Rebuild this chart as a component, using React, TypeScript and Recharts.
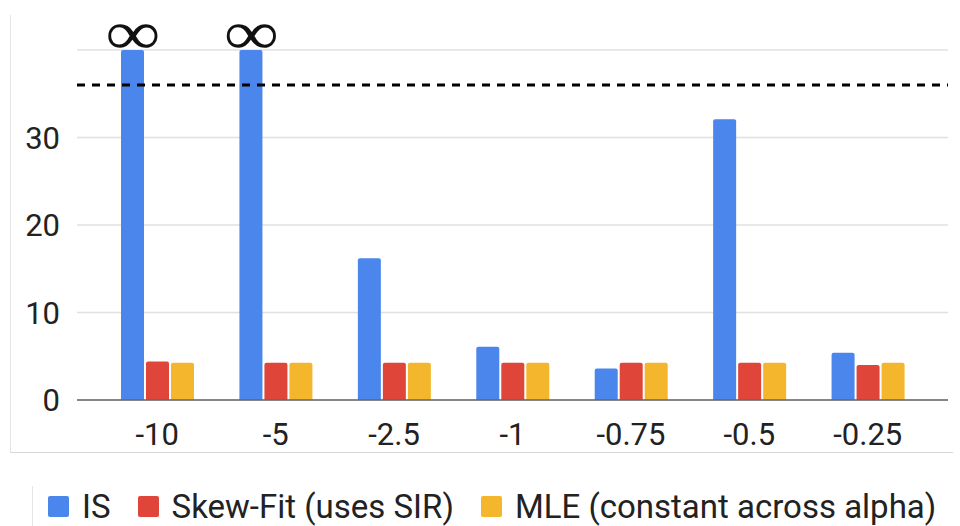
import { BarChart, Bar, XAxis, YAxis, CartesianGrid, ReferenceLine, LabelList } from 'recharts'

const alphas = ['-10', '-5', '-2.5', '-1', '-0.75', '-0.5', '-0.25']
// IS diverges for the two most negative alphas
const isValues = [Infinity, Infinity, 16.2, 6.1, 3.6, 32.1, 5.4]
const skewFitValues = [4.4, 4.25, 4.25, 4.25, 4.25, 4.25, 4.0]
const mleValues = [4.25, 4.25, 4.25, 4.25, 4.25, 4.25, 4.25]
const yTicks = [0, 10, 20, 30, 40]
const Y_MAX = 40
const CUTOFF = 36

const SERIES = [
  { key: 'is', name: 'IS', color: '#4a86ec' },
  { key: 'skew', name: 'Skew-Fit (uses SIR)', color: '#e0453a' },
  { key: 'mle', name: 'MLE (constant across alpha)', color: '#f4b62c' },
]

const data = alphas.map((a, i) => ({
  alpha: a,
  is: Math.min(isValues[i], Y_MAX),
  inf: isFinite(isValues[i]) ? '' : '∞',
  skew: skewFitValues[i],
  mle: mleValues[i],
}))

const FONT = 'Roboto, sans-serif'

function InfLabel(props: any) {
  const { x, y, width, value } = props
  if (!value) return null
  return (
    <text
      x={x + width / 2 - 27}
      y={y - 17}
      dominantBaseline="central"
      fontSize={62}
      fontFamily="Liberation Serif"
      textLength={55}
      lengthAdjust="spacingAndGlyphs"
      fill="#111"
    >
      {value}
    </text>
  )
}

export default function App() {
  return (
    <div style={{ position: 'relative', width: 960, height: 526, fontFamily: FONT, background: '#fff' }}>
      <style>{'body{margin:0}'}</style>
      <div style={{ position: 'absolute', left: 10, top: 15, width: 942, height: 437, borderLeft: '1px solid #e4e4e4', borderBottom: '1px solid #d8d8d8' }} />
      <div style={{ position: 'absolute', left: 0, top: 0 }}>
        <BarChart width={960} height={452} data={data} margin={{ top: 50, right: 12, left: 0, bottom: 0 }} barSize={23} barGap={2}>
          <CartesianGrid horizontal vertical={false} stroke="#e0e0e0" strokeWidth={1.5} />
          <XAxis
            dataKey="alpha"
            height={52}
            padding={{ left: 21, right: 21 }}
            tickLine={false}
            axisLine={{ stroke: '#666', strokeWidth: 1.5 }}
            tickMargin={17}
            tick={{ fill: '#222', fontSize: 31, fontFamily: FONT }}
          />
          <YAxis
            width={77}
            domain={[0, Y_MAX]}
            ticks={yTicks}
            axisLine={false}
            tickLine={false}
            tickMargin={11}
            tickFormatter={(v) => (v === Y_MAX ? '' : String(v))}
            tick={{ fill: '#222', fontSize: 31, fontFamily: FONT }}
          />
          <ReferenceLine y={CUTOFF} stroke="#000" strokeWidth={3} strokeDasharray="8 7" />
          {SERIES.map((s) => (
            <Bar key={s.key} dataKey={s.key} name={s.name} fill={s.color} radius={[2, 2, 0, 0]} isAnimationActive={false}>
              {s.key === 'is' && <LabelList dataKey="inf" content={<InfLabel />} />}
            </Bar>
          ))}
        </BarChart>
      </div>
      <div
        style={{
          position: 'absolute',
          left: 32,
          top: 486,
          width: 928,
          height: 40,
          borderLeft: '1px solid #e4e4e4',
          display: 'flex',
          alignItems: 'center',
          paddingLeft: 15,
          boxSizing: 'border-box',
          whiteSpace: 'nowrap',
        }}
      >
        {SERIES.map((s) => (
          <div key={s.key} style={{ display: 'flex', alignItems: 'center', marginRight: 27, flexShrink: 0 }}>
            <span style={{ width: 21, height: 21, background: s.color, borderRadius: 2, marginRight: 13 }} />
            <span style={{ fontSize: 33, color: '#222' }}>{s.name}</span>
          </div>
        ))}
      </div>
    </div>
  )
}
